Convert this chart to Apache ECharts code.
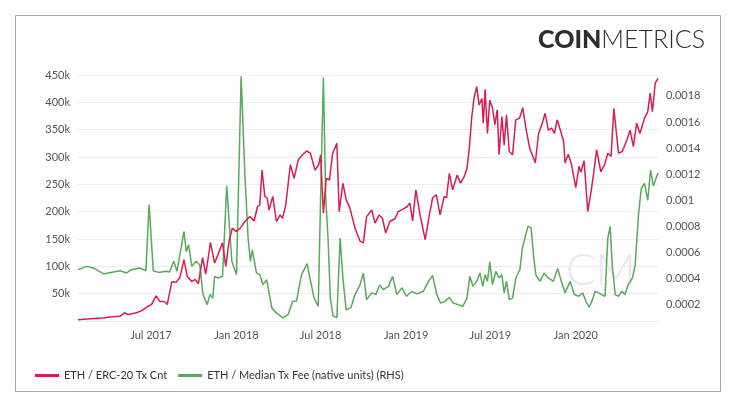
<!DOCTYPE html>
<html>
<head>
<meta charset="utf-8">
<script src="https://cdn.jsdelivr.net/npm/echarts@6/dist/echarts.min.js"></script>
<style>
html,body{margin:0;padding:0;background:#fff;}
#chart{width:736px;height:408px;}
</style>
</head>
<body>
<div id="chart"></div>
<script>
// ---- data ----
const redName = 'ETH / ERC-20 Tx Cnt';
const greenName = 'ETH / Median Tx Fee (native units) (RHS)';

const redDates = ['2017-01-25','2017-02-20','2017-03-20','2017-04-04','2017-04-25','2017-05-05','2017-05-13','2017-05-31','2017-06-11','2017-06-25','2017-07-02','2017-07-12','2017-07-20','2017-07-31','2017-08-05','2017-08-15','2017-08-24','2017-09-01','2017-09-10','2017-09-17','2017-09-27','2017-10-04','2017-10-11','2017-10-20','2017-10-27','2017-11-06','2017-11-15','2017-11-22','2017-12-02','2017-12-09','2017-12-16','2017-12-23','2017-12-31','2018-01-09','2018-01-19','2018-01-30','2018-02-08','2018-02-15','2018-02-20','2018-02-25','2018-03-03','2018-03-08','2018-03-12','2018-03-20','2018-03-28','2018-04-05','2018-04-10','2018-04-17','2018-04-27','2018-05-05','2018-05-14','2018-05-23','2018-06-01','2018-06-09','2018-06-19','2018-06-27','2018-07-01','2018-07-07','2018-07-13','2018-07-20','2018-07-27','2018-08-05','2018-08-10','2018-08-18','2018-08-25','2018-09-02','2018-09-13','2018-09-24','2018-10-01','2018-10-08','2018-10-19','2018-10-26','2018-11-04','2018-11-11','2018-11-18','2018-11-27','2018-12-08','2018-12-15','2018-12-26','2019-01-03','2019-01-09','2019-01-15','2019-01-22','2019-01-31','2019-02-11','2019-02-20','2019-02-27','2019-03-07','2019-03-15','2019-03-24','2019-03-29','2019-04-04','2019-04-11','2019-04-21','2019-04-28','2019-05-06','2019-05-12','2019-05-17','2019-05-22','2019-05-27','2019-06-02','2019-06-07','2019-06-13','2019-06-16','2019-06-20','2019-06-25','2019-06-30','2019-07-06','2019-07-11','2019-07-16','2019-07-20','2019-07-26','2019-07-31','2019-08-05','2019-08-11','2019-08-18','2019-08-25','2019-09-02','2019-09-09','2019-09-16','2019-09-24','2019-10-06','2019-10-13','2019-10-20','2019-10-27','2019-11-03','2019-11-10','2019-11-16','2019-11-22','2019-11-29','2019-12-06','2019-12-09','2019-12-16','2019-12-23','2020-01-01','2020-01-08','2020-01-12','2020-01-19','2020-01-27','2020-02-03','2020-02-08','2020-02-15','2020-02-24','2020-03-03','2020-03-10','2020-03-17','2020-03-23','2020-04-02','2020-04-10','2020-04-20','2020-04-27','2020-05-04','2020-05-11','2020-05-18','2020-05-28','2020-06-04','2020-06-09','2020-06-14','2020-06-20','2020-06-26'];
const redValues = [2500,4000,5600,7500,8600,15000,12000,15000,19000,27000,30000,46000,36000,35000,30000,72000,71000,79000,112000,82000,72000,76000,68000,116000,86000,144000,106000,121000,143000,100000,146000,170000,164000,170000,182000,191000,183000,209000,212000,276000,228000,225000,203000,228000,182000,194000,188000,212000,286000,261000,295000,304000,311000,307000,276000,286000,304000,197000,261000,258000,307000,325000,200000,252000,222000,207000,170000,146000,143000,191000,203000,179000,194000,188000,161000,182000,187000,200000,205000,209000,216000,183000,240000,194000,149000,194000,225000,231000,194000,228000,225000,270000,240000,267000,252000,264000,280000,316000,371000,407000,429000,395000,407000,362000,424000,343000,404000,389000,359000,386000,304000,374000,322000,377000,310000,304000,368000,371000,390000,351000,316000,289000,343000,359000,380000,349000,353000,343000,368000,349000,328000,289000,305000,286000,244000,283000,272000,293000,200000,237000,267000,313000,273000,286000,307000,301000,389000,307000,310000,331000,349000,319000,362000,343000,371000,383000,417000,383000,435000,444000];

const greenDates = ['2017-01-25','2017-02-13','2017-02-27','2017-03-21','2017-04-11','2017-04-25','2017-05-10','2017-05-20','2017-06-07','2017-06-20','2017-06-27','2017-07-06','2017-07-17','2017-08-03','2017-08-10','2017-08-19','2017-08-26','2017-09-10','2017-09-15','2017-09-20','2017-09-27','2017-10-06','2017-10-14','2017-10-21','2017-10-30','2017-11-05','2017-11-11','2017-11-15','2017-11-22','2017-12-02','2017-12-11','2017-12-22','2018-01-01','2018-01-11','2018-01-19','2018-01-26','2018-01-31','2018-02-04','2018-02-13','2018-02-20','2018-02-27','2018-03-07','2018-03-18','2018-03-28','2018-04-11','2018-04-22','2018-05-02','2018-05-10','2018-05-21','2018-06-02','2018-06-08','2018-06-17','2018-06-26','2018-07-01','2018-07-07','2018-07-12','2018-07-17','2018-07-22','2018-07-28','2018-08-05','2018-08-12','2018-08-18','2018-08-25','2018-09-04','2018-09-13','2018-09-24','2018-10-01','2018-10-08','2018-10-19','2018-10-28','2018-11-05','2018-11-13','2018-11-24','2018-12-03','2018-12-12','2018-12-23','2019-01-02','2019-01-13','2019-01-24','2019-02-07','2019-02-18','2019-02-27','2019-03-08','2019-03-16','2019-03-26','2019-04-04','2019-04-12','2019-04-23','2019-05-03','2019-05-12','2019-05-18','2019-05-25','2019-06-02','2019-06-09','2019-06-15','2019-06-20','2019-06-25','2019-06-30','2019-07-06','2019-07-13','2019-07-20','2019-07-26','2019-07-31','2019-08-05','2019-08-11','2019-08-18','2019-08-25','2019-09-03','2019-09-08','2019-09-20','2019-09-27','2019-10-02','2019-10-07','2019-10-16','2019-10-25','2019-11-03','2019-11-14','2019-11-23','2019-11-30','2019-12-09','2019-12-20','2019-12-29','2020-01-07','2020-01-16','2020-01-23','2020-01-30','2020-02-06','2020-02-12','2020-02-19','2020-02-26','2020-03-04','2020-03-10','2020-03-15','2020-03-20','2020-03-26','2020-04-02','2020-04-09','2020-04-16','2020-04-23','2020-05-02','2020-05-08','2020-05-15','2020-05-21','2020-05-28','2020-06-04','2020-06-10','2020-06-16','2020-06-26'];
const greenValues = [0.000468,0.000493,0.000481,0.000435,0.00045,0.00046,0.000443,0.000468,0.000481,0.00046,0.000966,0.00046,0.000447,0.000455,0.00045,0.000532,0.000455,0.000761,0.000608,0.000659,0.000493,0.000532,0.000506,0.000277,0.0002,0.000277,0.00025,0.000417,0.000404,0.000417,0.00111,0.000532,0.00043,0.00195,0.0012,0.00071,0.000532,0.00062,0.000443,0.00043,0.000353,0.00039,0.000175,0.000136,0.000098,0.000123,0.000225,0.000225,0.00043,0.000514,0.000404,0.00025,0.000187,0.00102,0.00194,0.00102,0.00071,0.00025,0.00011,0.0001,0.00071,0.000404,0.00016,0.000175,0.000277,0.000353,0.000443,0.000238,0.00029,0.000277,0.00035,0.000315,0.00034,0.000417,0.000277,0.000328,0.000264,0.000302,0.000282,0.000302,0.000378,0.000424,0.000277,0.000213,0.000225,0.000256,0.000213,0.0002,0.000187,0.00025,0.000417,0.00034,0.000378,0.000443,0.00034,0.00043,0.000378,0.000527,0.000353,0.000455,0.000404,0.00043,0.00029,0.000378,0.000238,0.00025,0.000404,0.00047,0.00063,0.0008,0.00079,0.000583,0.00043,0.000378,0.000443,0.000404,0.000378,0.000476,0.00039,0.00029,0.000378,0.000277,0.000264,0.00029,0.000225,0.00018,0.000238,0.000302,0.00029,0.000277,0.000264,0.00071,0.0008,0.000481,0.000277,0.000264,0.000302,0.000277,0.000353,0.000404,0.000506,0.000889,0.00109,0.00113,0.001,0.00123,0.00111,0.00121];

const xLabelDates = ['2017-07-01','2018-01-01','2018-07-01','2019-01-01','2019-07-01','2020-01-01'];
const rightTicks = [0.0002,0.0004,0.0006,0.0008,0.001,0.0012,0.0014,0.0016,0.0018];
const monthNames = ['Jan','Feb','Mar','Apr','May','Jun','Jul','Aug','Sep','Oct','Nov','Dec'];

// ---- build ----
const t = s => { const p = s.split('-').map(Number); return Date.UTC(p[0], p[1]-1, p[2]); };
const redData = redDates.map((d,i)=>[t(d), redValues[i]]);
const greenData = greenDates.map((d,i)=>[t(d), greenValues[i]]);

const RED = '#d81e4f', GREEN = '#57a95b';
const FONT = 'Lato';
const FS = 11;

const chart = echarts.init(document.getElementById('chart'), null, {renderer:'canvas'});
chart.setOption({
  animation:false,
  backgroundColor:'#fff',
  textStyle:{fontFamily:FONT},
  grid:{left:78, right:78, top:75, bottom:87, containLabel:false},
  graphic:[
    {type:'rect', shape:{x:15.5,y:15.5,width:705,height:376}, style:{fill:'none', stroke:'#a8a8a8', lineWidth:1}, z:-1, silent:true},
    {type:'text', right:31, top:27, silent:true,
      style:{text:'{b|COIN}{l|METRICS}', rich:{
        b:{fontFamily:FONT, fontWeight:900, fontSize:25, fill:'#2e2e2e'},
        l:{fontFamily:FONT, fontWeight:300, fontSize:25, fill:'#2e2e2e'}
      }}},
    {type:'text', left:566, top:249, silent:true, z:-1,
      style:{text:'CM', fontFamily:FONT, fontWeight:300, fontSize:44, fill:'#e3e7ef'}}
  ],
  legend:{
    left:30, top:365, icon:'rect', itemWidth:24, itemHeight:3, itemGap:11,
    textStyle:{fontFamily:FONT, fontSize:FS, color:'#333'},
    data:[redName, greenName]
  },
  xAxis:{
    type:'value',
    min:t(redDates[0]), max:t(redDates[redDates.length-1]),
    axisLine:{show:false}, axisTick:{show:false}, splitLine:{show:false},
    axisLabel:{
      customValues:xLabelDates.map(t),
      margin:9, fontFamily:FONT, fontSize:FS, color:'#555',
      formatter:v=>{const d=new Date(v); return monthNames[d.getUTCMonth()]+' '+d.getUTCFullYear();}
    }
  },
  yAxis:[
    {type:'value', min:0, max:450000, interval:50000, position:'left',
      axisLine:{show:false}, axisTick:{show:false},
      splitLine:{show:true, lineStyle:{color:'#ededed', width:1}},
      axisLabel:{margin:8, fontFamily:FONT, fontSize:FS, color:'#555',
        formatter:v=> v===0 ? '' : (v/1000)+'k'}
    },
    {type:'value', min:0.0000744, max:0.00196, position:'right',
      axisLine:{show:false}, axisTick:{show:false}, splitLine:{show:false},
      axisLabel:{customValues:rightTicks, margin:8, fontFamily:FONT, fontSize:FS, color:'#555',
        formatter:v=> String(+v.toFixed(4))}
    }
  ],
  series:[
    {name:redName, type:'line', yAxisIndex:0, data:redData, showSymbol:false, symbol:'none',
      lineStyle:{color:RED, width:1.5}, itemStyle:{color:RED}, z:3},
    {name:greenName, type:'line', yAxisIndex:1, data:greenData, showSymbol:false, symbol:'none',
      lineStyle:{color:GREEN, width:1.5}, itemStyle:{color:GREEN}, z:2}
  ]
});
</script>
</body>
</html>
